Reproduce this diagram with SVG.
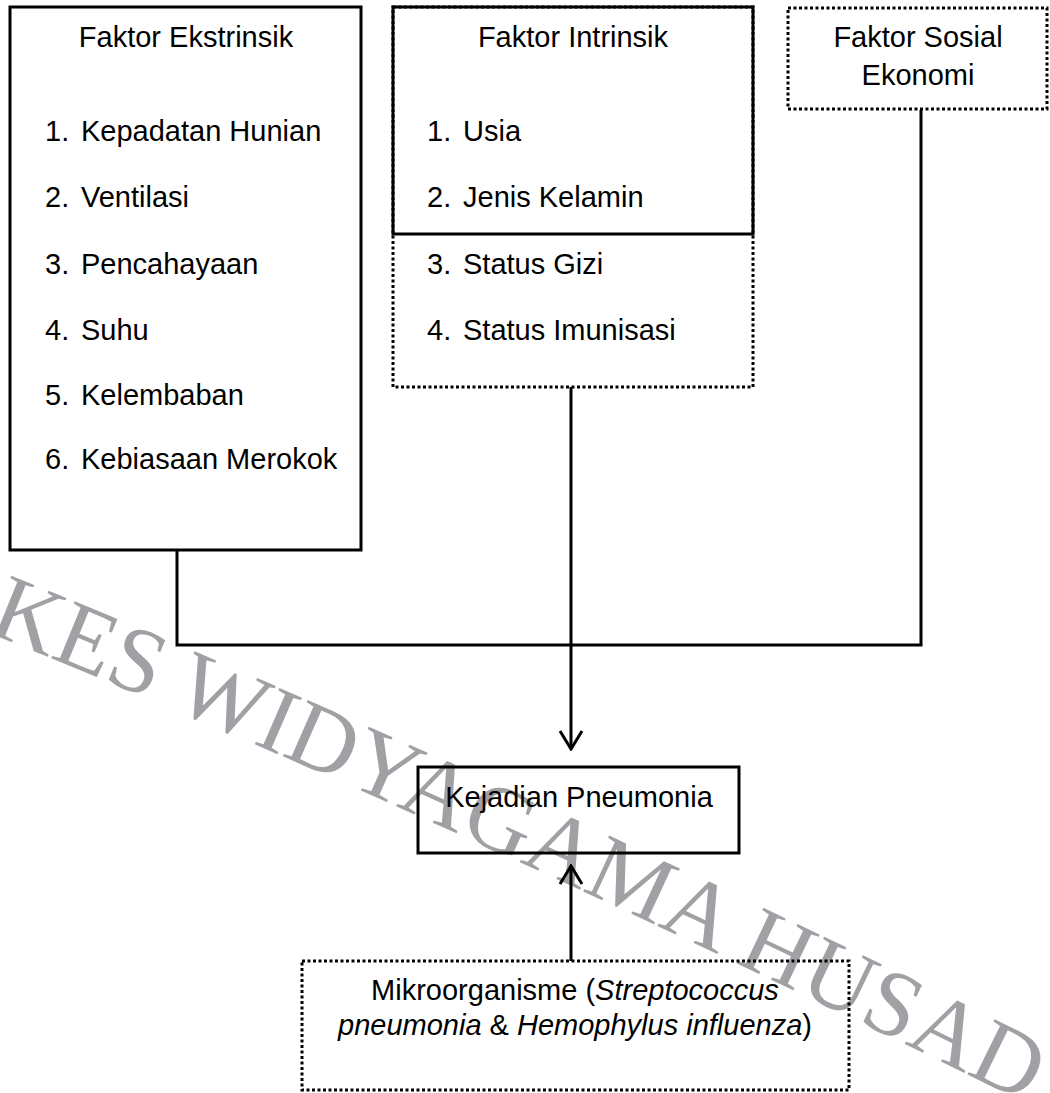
<svg xmlns="http://www.w3.org/2000/svg" width="1050" height="1093" viewBox="0 0 1050 1093">
  <style>
    .t { font-family: "Liberation Sans", Arial, sans-serif; font-size: 29px; fill: #000; }
    .c { text-anchor: middle; }
    .solid { fill: none; stroke: #000; stroke-width: 3; }
    .dot { fill: none; stroke: #000; stroke-width: 3; stroke-dasharray: 3 2.5; }
    .line { fill: none; stroke: #000; stroke-width: 3; }
    .wm { font-family: "Liberation Serif", "Times New Roman", serif; font-size: 94px; fill: #a1a1a5; }
  </style>
  <defs>
    <marker id="arrow" viewBox="-20 -13 22 26" refX="0" refY="0" markerWidth="22" markerHeight="26" markerUnits="userSpaceOnUse" orient="auto">
      <path d="M-18,-11 L0,0 L-18,11" fill="none" stroke="#000" stroke-width="3"/>
    </marker>
    <path id="wmpath" d="M -14,632 Q 500,838 1200,1190"/>
  </defs>
  <rect width="1050" height="1093" fill="#fff"/>

  <g id="watermark">
    <text class="wm"><textPath href="#wmpath">KES WIDYAGAMA HUSAD</textPath></text>
  </g>

  <g id="connectors">
    <polyline class="line" points="177,550 177,645 921,645 921,110"/>
    <line class="line" x1="571" y1="387" x2="571" y2="749" marker-end="url(#arrow)"/>
    <line class="line" x1="571" y1="961" x2="571" y2="866" marker-end="url(#arrow)"/>
  </g>

  <g id="faktor-ekstrinsik">
    <rect class="solid" x="10" y="7" width="351" height="543"/>
    <text class="t c" x="186" y="47">Faktor Ekstrinsik</text>
    <text class="t" x="45" y="141">1.</text><text class="t" x="81" y="141">Kepadatan Hunian</text>
    <text class="t" x="45" y="207">2.</text><text class="t" x="81" y="207">Ventilasi</text>
    <text class="t" x="45" y="274">3.</text><text class="t" x="81" y="274">Pencahayaan</text>
    <text class="t" x="45" y="340">4.</text><text class="t" x="81" y="340">Suhu</text>
    <text class="t" x="45" y="405">5.</text><text class="t" x="81" y="405">Kelembaban</text>
    <text class="t" x="45" y="469">6.</text><text class="t" x="81" y="469">Kebiasaan Merokok</text>
  </g>

  <g id="faktor-intrinsik">
    <rect class="dot" x="393" y="7" width="360" height="380"/>
    <rect class="solid" x="393" y="7" width="360" height="227"/>
    <text class="t c" x="573" y="47">Faktor Intrinsik</text>
    <text class="t" x="427" y="141">1.</text><text class="t" x="463" y="141">Usia</text>
    <text class="t" x="427" y="207">2.</text><text class="t" x="463" y="207">Jenis Kelamin</text>
    <text class="t" x="427" y="274">3.</text><text class="t" x="463" y="274">Status Gizi</text>
    <text class="t" x="427" y="340">4.</text><text class="t" x="463" y="340">Status Imunisasi</text>
  </g>

  <g id="faktor-sosial-ekonomi">
    <rect class="dot" x="788" y="8" width="259" height="101"/>
    <text class="t c" x="918" y="47">Faktor Sosial</text>
    <text class="t c" x="918" y="85">Ekonomi</text>
  </g>

  <g id="kejadian-pneumonia">
    <rect class="solid" x="418" y="767" width="321" height="86"/>
    <text class="t c" x="579" y="807">Kejadian Pneumonia</text>
  </g>

  <g id="mikroorganisme">
    <rect class="dot" x="302" y="961" width="547" height="129"/>
    <text class="t c" x="575" y="1000">Mikroorganisme (<tspan font-style="italic">Streptococcus</tspan></text>
    <text class="t c" x="575" y="1035"><tspan font-style="italic">pneumonia</tspan> &amp; <tspan font-style="italic">Hemophylus influenza</tspan>)</text>
  </g>
</svg>
